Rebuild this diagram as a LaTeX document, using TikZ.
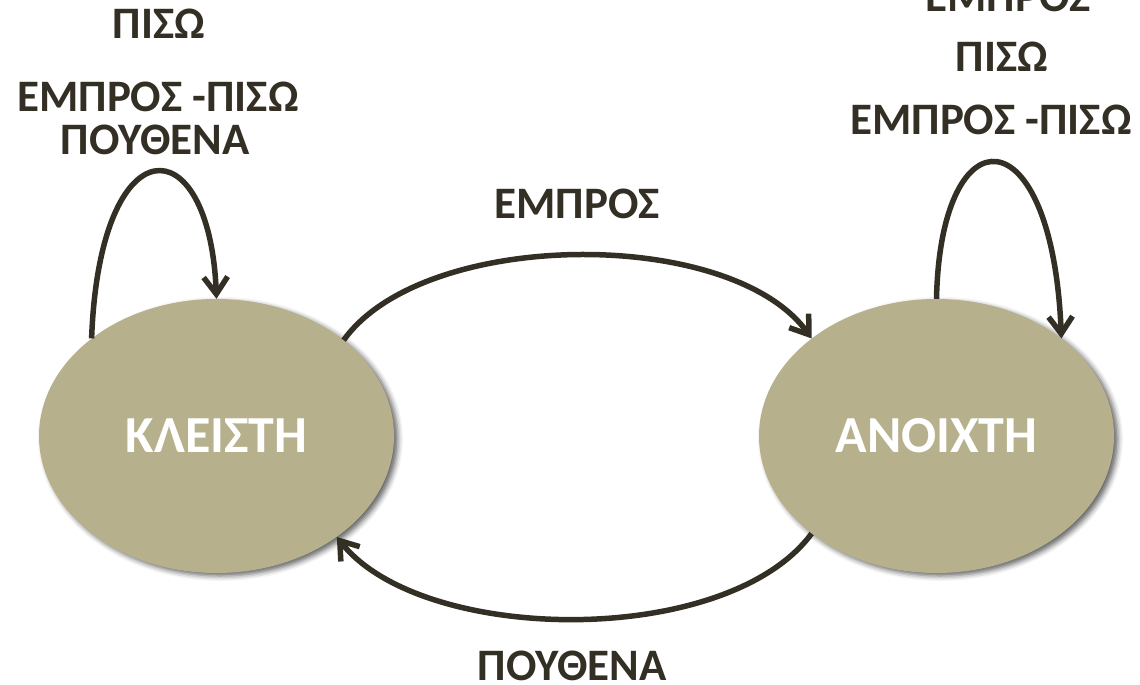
\documentclass[tikz,border=0pt]{standalone}
\usepackage{fontspec}
\setmainfont{Carlito}
\usetikzlibrary{shapes.geometric,arrows.meta,shadows.blur}
\definecolor{stateFill}{RGB}{182,176,140}
\definecolor{inkDark}{RGB}{52,47,36}
\begin{document}
\begin{tikzpicture}[x=1pt,y=-1pt,
  state/.style={ellipse, fill=stateFill, minimum width=355pt, minimum height=274pt,
    inner sep=0pt, text=white, font=\fontsize{52}{56}\selectfont\bfseries,
    blur shadow={shadow xshift=4pt, shadow yshift=-3pt, shadow blur radius=5pt, shadow opacity=60}},
  lbl/.style={text=inkDark, inner sep=0pt, font=\fontsize{45}{49}\selectfont\bfseries},
  trans/.style={draw=inkDark, line width=5.5pt,
    -{Straight Barb[length=17pt,width=24pt,line width=5.5pt]}}]
  \useasboundingbox (0,0) rectangle (1140,685);

  % states
  \node[state] (cl) at (216.5,436) {ΚΛΕΙΣΤΗ};
  \node[state] (op) at (936.5,436) {ΑΝΟΙΧΤΗ};

  % transitions between the states
  \draw[trans] (cl.37) .. controls +(80,-112) and +(-80,-112) .. (op.142);
  \draw[trans] (op.218) .. controls +(-85,115) and +(85,108) .. (cl.320);

  % self loops
  \draw[trans] (cl.142) .. controls +(8,-216) and +(-7,-175) .. (cl.north);
  \draw[trans] (op.north) .. controls +(4,-189) and +(-9,-227) .. (op.38);

  % labels
  \node[lbl] (l1) at (159,24) {ΠΙΣΩ};
  \node[lbl] (l2) at (158,97) {ΕΜΠΡΟΣ -ΠΙΣΩ};
  \node[lbl] (l3) at (155,140) {ΠΟΥΘΕΝΑ};
  \node[lbl] (r1) at (1008,-3) {ΕΜΠΡΟΣ};
  \node[lbl] (r2) at (1002,57) {ΠΙΣΩ};
  \node[lbl] (r3) at (991,120) {ΕΜΠΡΟΣ -ΠΙΣΩ};
  \node[lbl] (fwd) at (577,204) {ΕΜΠΡΟΣ};
  \node[lbl] (nowhere) at (572,666) {ΠΟΥΘΕΝΑ};
\end{tikzpicture}
\end{document}
